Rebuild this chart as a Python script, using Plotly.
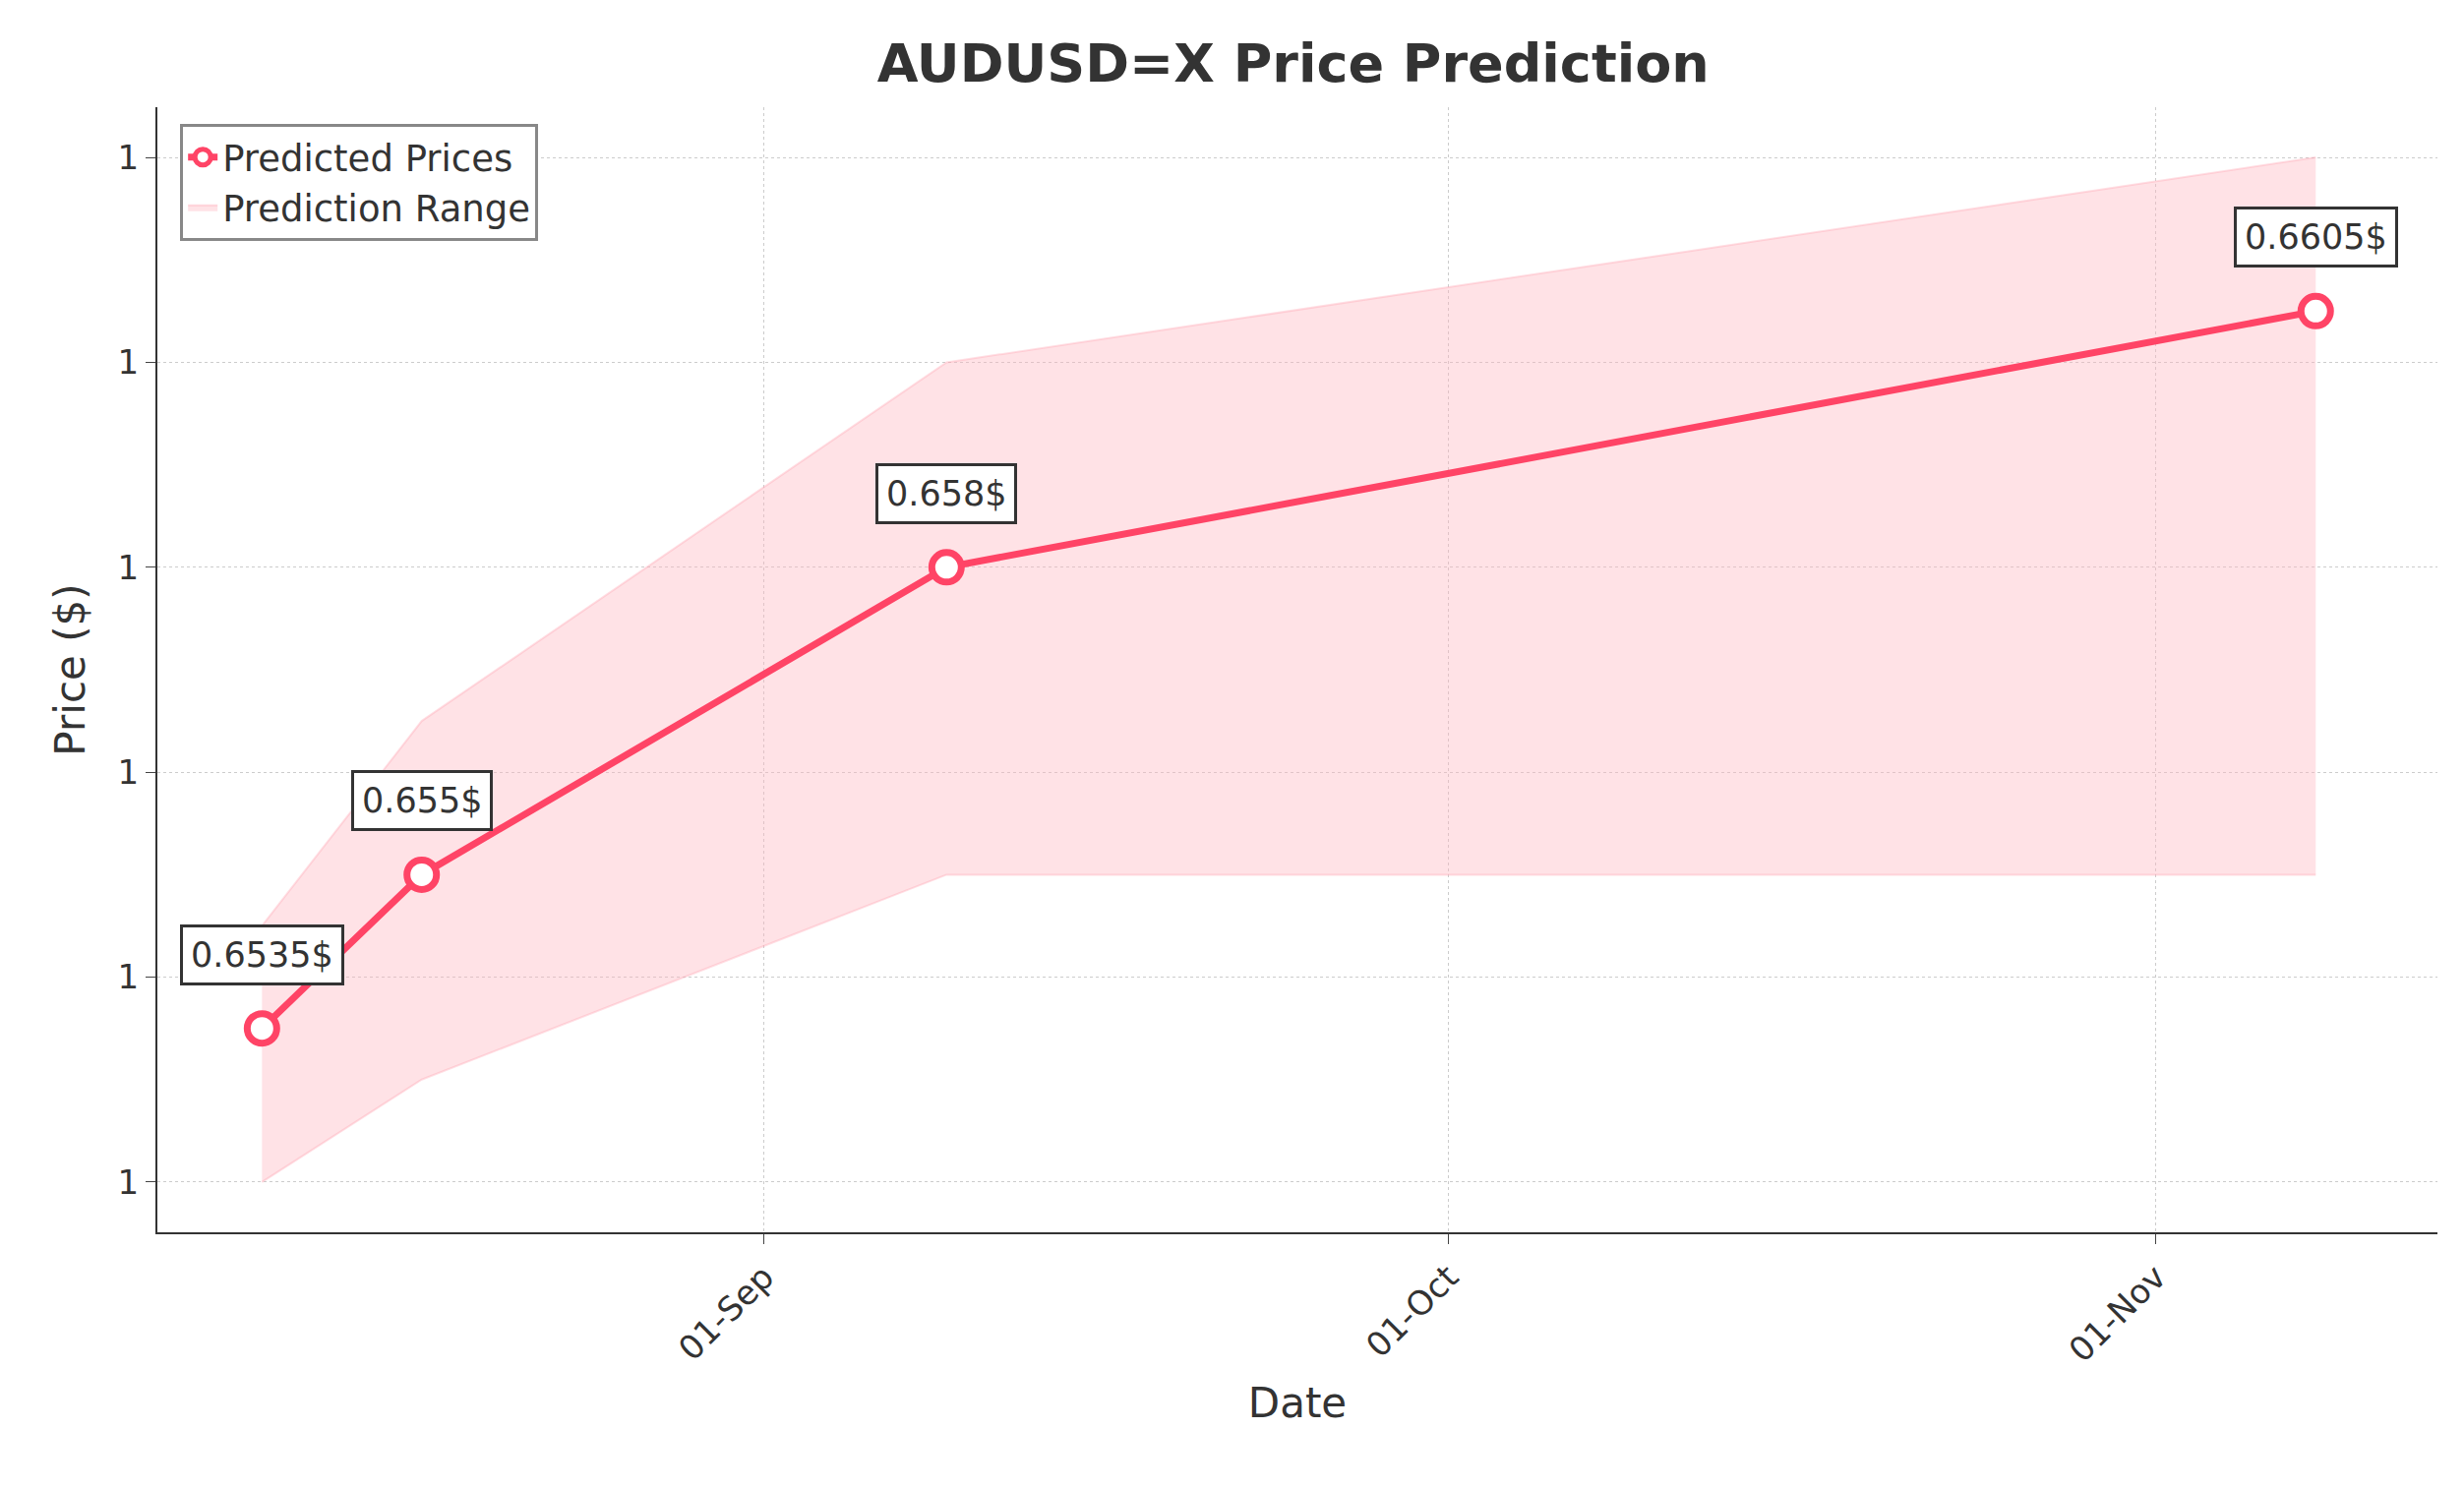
import plotly.graph_objects as go

dates = ["2024-08-10", "2024-08-17", "2024-09-09", "2024-11-08"]
predicted = [0.6535, 0.655, 0.658, 0.6605]
upper = [0.6545, 0.6565, 0.660, 0.662]
lower = [0.652, 0.653, 0.655, 0.655]
labels = ["0.6535$", "0.655$", "0.658$", "0.6605$"]
y_ticks = [0.652, 0.654, 0.656, 0.658, 0.660, 0.662]
x_ticks = ["2024-09-01", "2024-10-01", "2024-11-01"]
x_ticklabels = ["01-Sep", "01-Oct", "01-Nov"]

line_color = "#FF4466"
fig = go.Figure()

fig.add_trace(go.Scatter(x=dates, y=upper, mode="lines", line=dict(width=2, color="rgba(255,160,175,0.35)"),
                         showlegend=False, hoverinfo="skip"))
fig.add_trace(go.Scatter(x=dates, y=lower, mode="lines", line=dict(width=2, color="rgba(255,160,175,0.35)"),
                         fill="tonexty", fillcolor="rgba(255,182,193,0.4)", name="Prediction Range"))
fig.add_trace(go.Scatter(x=dates, y=predicted, mode="lines+markers", name="Predicted Prices",
                         line=dict(color=line_color, width=7),
                         marker=dict(size=30, color="white", line=dict(color=line_color, width=7))))

for d, p, t in zip(dates, predicted, labels):
    fig.add_annotation(x=d, y=p, text=t, showarrow=False, yshift=75,
                       font=dict(size=35, color="#333333"), bgcolor="white",
                       bordercolor="#333333", borderwidth=3, borderpad=8)

fig.update_layout(
    title=dict(text="<b>AUDUSD=X Price Prediction</b>", x=0.525, y=0.975, xanchor="center",
               font=dict(size=54, color="#333333")),
    font=dict(family="DejaVu Sans", color="#333333", size=34),
    plot_bgcolor="white", paper_bgcolor="white",
    margin=dict(l=152, r=19, t=101, b=252),
    legend=dict(x=0.01, y=0.985, xanchor="left", yanchor="top", bordercolor="#888888", borderwidth=3,
                bgcolor="white", font=dict(size=37), traceorder="reversed"),
    xaxis=dict(title=dict(text="Date", font=dict(size=42), standoff=20), range=["2024-08-05 10:00", "2024-11-13 08:00"],
               tickvals=x_ticks, ticktext=x_ticklabels, tickangle=-45,
               showline=True, linecolor="#333333", linewidth=2, ticks="outside", ticklen=10,
               showgrid=True, gridcolor="#cccccc", griddash="dot", zeroline=False),
    yaxis=dict(title=dict(text="Price ($)", font=dict(size=42), standoff=20), range=[0.65151, 0.66249],
               tickvals=y_ticks, ticktext=["1"] * len(y_ticks),
               showline=True, linecolor="#333333", linewidth=2, ticks="outside", ticklen=10,
               showgrid=True, gridcolor="#cccccc", griddash="dot", zeroline=False),
)

fig.write_html("out.html")
